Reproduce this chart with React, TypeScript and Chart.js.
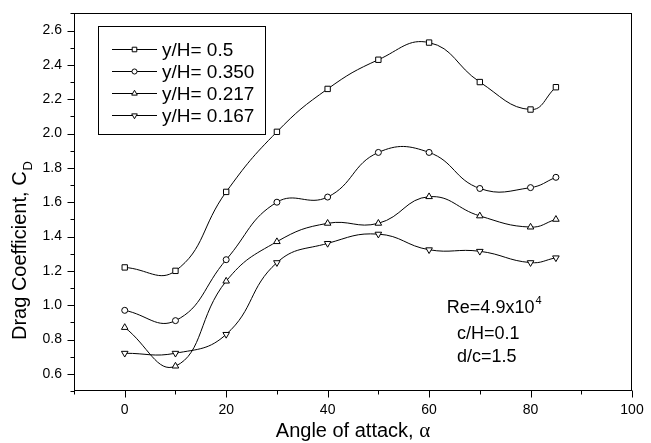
import React, { useEffect, useRef } from "react";
import { Chart, registerables } from "chart.js";

Chart.register(...registerables);

// ---- data ----
const angles = [0, 10, 20, 30, 40, 50, 60, 70, 80, 85];
const seriesLabels = ["y/H= 0.5", "y/H= 0.350", "y/H= 0.217", "y/H= 0.167"];
const cdYH050 = [1.22, 1.2, 1.66, 2.01, 2.26, 2.43, 2.53, 2.3, 2.14, 2.27];
const cdYH035 = [0.97, 0.91, 1.265, 1.6, 1.63, 1.89, 1.89, 1.68, 1.685, 1.745];
const cdYH0217 = [0.87, 0.645, 1.14, 1.37, 1.477, 1.477, 1.632, 1.52, 1.455, 1.5];
const cdYH0167 = [0.72, 0.72, 0.83, 1.248, 1.36, 1.414, 1.323, 1.314, 1.248, 1.276];
const xMajorTicks = [0, 20, 40, 60, 80, 100];
const yMajorTicks = [0.6, 0.8, 1.0, 1.2, 1.4, 1.6, 1.8, 2.0, 2.2, 2.4, 2.6];
const annotationLines = ["Re=4.9x10", "c/H=0.1", "d/c=1.5"];
const annotationSup = "4";
const xTitle = "Angle of attack, ";
const xTitleSymbol = "α";
const yTitle = "Drag Coefficient, C";
const yTitleSub = "D";

const SANS = "'Liberation Sans', Arial, sans-serif";
const markers = [
  { style: "rect", rotation: 0, radius: 3.8 },
  { style: "circle", rotation: 0, radius: 3 },
  { style: "triangle", rotation: 0, radius: 3.8 },
  { style: "triangle", rotation: 180, radius: 3.8 },
];

function drawMarker(ctx: CanvasRenderingContext2D, kind: number, x: number, y: number, r: number) {
  ctx.save();
  ctx.beginPath();
  const m = markers[kind];
  if (m.style === "rect") {
    const s = r * Math.SQRT1_2;
    ctx.rect(x - s, y - s, 2 * s, 2 * s);
  } else if (m.style === "circle") {
    ctx.arc(x, y, r, 0, Math.PI * 2);
  } else {
    const dir = m.rotation === 180 ? -1 : 1;
    const w = (r * Math.sqrt(3)) / 2;
    ctx.moveTo(x, y - dir * r);
    ctx.lineTo(x + w, y + (dir * r) / 2);
    ctx.lineTo(x - w, y + (dir * r) / 2);
    ctx.closePath();
  }
  ctx.fillStyle = "#fff";
  ctx.fill();
  ctx.lineWidth = 1;
  ctx.strokeStyle = "#000";
  ctx.stroke();
  ctx.restore();
}

const decorPlugin = {
  id: "decor",
  afterDraw(chart: any) {
    const ctx: CanvasRenderingContext2D = chart.ctx;
    const a = chart.chartArea;
    const xs = chart.scales.x;
    const ys = chart.scales.y;
    ctx.save();
    ctx.strokeStyle = "#000";
    ctx.lineWidth = 1;
    // frame
    const L = Math.round(a.left) + 0.5;
    const R = Math.round(a.right) - 0.5;
    const T = Math.round(a.top) + 0.5;
    const B = Math.round(a.bottom) - 0.5;
    ctx.strokeRect(L, T, R - L, B - T);
    // x ticks (major every 20, minor every 10)
    for (let v = -10; v <= 100; v += 10) {
      const px = Math.round(xs.getPixelForValue(v)) + 0.5;
      const len = v % 20 === 0 ? 7 : 4;
      ctx.beginPath();
      ctx.moveTo(px, B);
      ctx.lineTo(px, B + len);
      ctx.stroke();
    }
    // y ticks (major every 0.2, minor every 0.1)
    for (let i = 5; i <= 27; i++) {
      const v = i / 10;
      const py = Math.round(ys.getPixelForValue(v)) + 0.5;
      const len = i % 2 === 0 ? 7 : 4;
      ctx.beginPath();
      ctx.moveTo(L, py);
      ctx.lineTo(L - len, py);
      ctx.stroke();
    }
    // legend
    const lx0 = 98.5, ly0 = 26.5, lx1 = 265.5, ly1 = 134.5;
    ctx.strokeRect(lx0, ly0, lx1 - lx0, ly1 - ly0);
    ctx.font = `19px ${SANS}`;
    ctx.fillStyle = "#000";
    ctx.textBaseline = "middle";
    ctx.textAlign = "left";
    chart.data.datasets.forEach((ds: any, i: number) => {
      const y = 49.5 + i * 22;
      ctx.beginPath();
      ctx.moveTo(112, y);
      ctx.lineTo(157, y);
      ctx.stroke();
      drawMarker(ctx, i, 134.5, y, markers[i].radius * 0.85);
      ctx.fillText(ds.label, 162, y + 1);
    });
    // annotation
    ctx.textBaseline = "alphabetic";
    ctx.font = `18px ${SANS}`;
    const reX = xs.getPixelForValue(63.5);
    const ax = xs.getPixelForValue(65.5);
    const y1 = ys.getPixelForValue(0.99) + 6.5;
    ctx.fillText(annotationLines[0], reX, y1);
    const w0 = ctx.measureText(annotationLines[0]).width;
    ctx.font = `11px ${SANS}`;
    ctx.fillText(annotationSup, reX + w0 + 1, y1 - 9);
    ctx.font = `18px ${SANS}`;
    ctx.fillText(annotationLines[1], ax, ys.getPixelForValue(0.84) + 6.5);
    ctx.fillText(annotationLines[2], ax, ys.getPixelForValue(0.705) + 6.5);
    // x title
    ctx.font = `20px ${SANS}`;
    const wt = ctx.measureText(xTitle).width;
    ctx.font = `21px 'Liberation Serif', serif`;
    const ws = ctx.measureText(xTitleSymbol).width;
    const cx = (a.left + a.right) / 2;
    const sx = cx - (wt + ws) / 2;
    ctx.font = `20px ${SANS}`;
    ctx.fillText(xTitle, sx, 437);
    ctx.font = `21px 'Liberation Serif', serif`;
    ctx.fillText(xTitleSymbol, sx + wt, 437);
    // y title
    ctx.save();
    ctx.translate(26, 251);
    ctx.rotate(-Math.PI / 2);
    ctx.font = `20px ${SANS}`;
    const w1 = ctx.measureText(yTitle).width;
    ctx.font = `13px ${SANS}`;
    const w2 = ctx.measureText(yTitleSub).width;
    const start = -(w1 + w2) / 2;
    ctx.font = `20px ${SANS}`;
    ctx.fillText(yTitle, start, 0);
    ctx.font = `13px ${SANS}`;
    ctx.fillText(yTitleSub, start + w1 + 1, 6);
    ctx.restore();
    ctx.restore();
  },
};

export default function App() {
  const ref = useRef<HTMLCanvasElement | null>(null);
  useEffect(() => {
    if (!ref.current) return;
    const seriesValues = [cdYH050, cdYH035, cdYH0217, cdYH0167];
    const datasets = seriesValues.map((vals, i) => ({
      label: seriesLabels[i],
      data: angles.map((x, j) => ({ x, y: vals[j] })),
      borderColor: "#000",
      borderWidth: 1,
      backgroundColor: "#fff",
      pointStyle: markers[i].style,
      pointRotation: markers[i].rotation,
      pointRadius: markers[i].radius,
      pointBorderWidth: 1,
      pointBorderColor: "#000",
      pointBackgroundColor: "#fff",
      tension: 0.45,
      fill: false,
    }));
    const chart = new Chart(ref.current, {
      type: "line",
      data: { datasets },
      options: {
        animation: false,
        responsive: false,
        devicePixelRatio: 1,
        layout: { padding: { top: 11, right: 19, left: 0, bottom: 0 } },
        plugins: { legend: { display: false }, tooltip: { enabled: false } },
        scales: {
          x: {
            type: "linear",
            min: -10,
            max: 100,
            afterFit: (s: any) => { s.height = 52; },
            afterBuildTicks: (s: any) => { s.ticks = xMajorTicks.map((v) => ({ value: v })); },
            grid: { display: false, drawTicks: true, tickLength: 7 },
            border: { display: false },
            ticks: {
              color: "#000",
              font: { family: SANS, size: 14 },
              padding: 4,
              maxRotation: 0,
              autoSkip: false,
              callback: (v: any) => String(v),
            },
          },
          y: {
            type: "linear",
            min: 0.5,
            max: 2.7,
            afterFit: (s: any) => { s.width = 74; },
            afterBuildTicks: (s: any) => { s.ticks = yMajorTicks.map((v) => ({ value: v })); },
            grid: { display: false, drawTicks: true, tickLength: 7 },
            border: { display: false },
            ticks: {
              color: "#000",
              font: { family: SANS, size: 14 },
              padding: 5,
              autoSkip: false,
              callback: (v: any) => Number(v).toFixed(1),
            },
          },
        },
      },
      plugins: [decorPlugin],
    });
    return () => chart.destroy();
  }, []);
  return (
    <div style={{ position: "fixed", left: 0, top: 0, width: 651, height: 443, background: "#fff" }}>
      <canvas ref={ref} width={651} height={443} style={{ display: "block" }} />
    </div>
  );
}
